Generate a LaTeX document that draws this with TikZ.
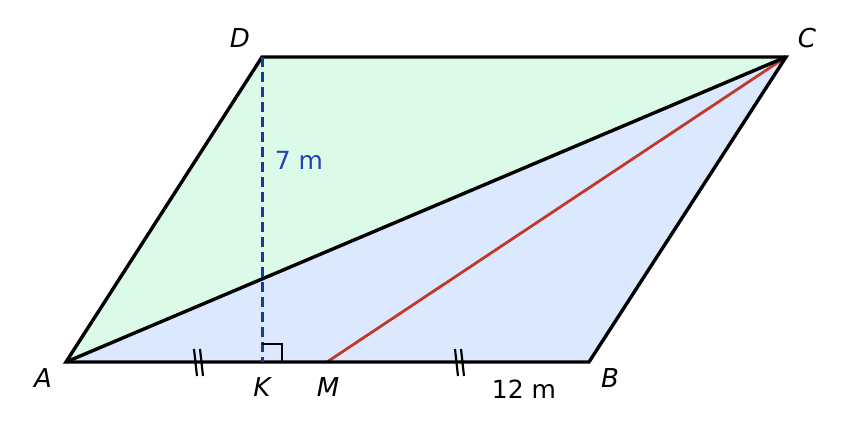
\documentclass[tikz,border=0pt]{standalone}
\usepackage{fontspec}
\setmainfont{DejaVu Sans}
\usetikzlibrary{calc}
\begin{document}
\begin{tikzpicture}[x=1pt,y=-1pt,
  edge/.style={line width=3.4pt,line join=miter},
  lbl/.style={font=\fontsize{26}{30}\selectfont\itshape},
  meas/.style={font=\fontsize{25}{30}\selectfont},
  tick/.style={line width=2.2pt}]
\useasboundingbox (0,0) rectangle (852,437);
\definecolor{gfill}{HTML}{DCFAE8}
\definecolor{bfill}{HTML}{DBE8FD}
\definecolor{redl}{HTML}{C0392B}
\definecolor{bluel}{HTML}{1A3A9A}
\definecolor{bluet}{HTML}{2244BB}
\coordinate (A) at (66,362);
\coordinate (B) at (589,362);
\coordinate (C) at (786,57);
\coordinate (D) at (262,57);
\coordinate (K) at (262,362);
\coordinate (M) at (327,362);
\fill[gfill] (A) -- (C) -- (D) -- cycle;
\fill[bfill] (A) -- (B) -- (C) -- cycle;
\draw[redl,line width=2.8pt] (M) -- (C);
\draw[edge] (A) -- (C);
\draw[edge] (A) -- (B) -- (C) -- (D) -- cycle;
\draw[bluel,line width=3pt,dash pattern=on 10pt off 5pt] (D) -- (K);
\draw[line width=2.6pt] ($(K)+(0,-18)$) -- ++(20,0) -- ++(0,18);
\foreach \x in {194,200}{\draw[tick] (\x,349) -- (\x+3,376);}
\foreach \x in {455,461}{\draw[tick] (\x,349) -- (\x+3,376);}
\node[lbl] (lA) at (43,378) {A};
\node[lbl] (lB) at (610,378) {B};
\node[lbl] (lC) at (807,38) {C};
\node[lbl] (lD) at (240,38) {D};
\node[lbl] (lK) at (262,387) {K};
\node[lbl] (lM) at (328,387) {M};
\node[meas] (l12) at (524,389) {12 m};
\node[meas,text=bluet] (l7) at (299,160) {7 m};
\end{tikzpicture}
\end{document}
